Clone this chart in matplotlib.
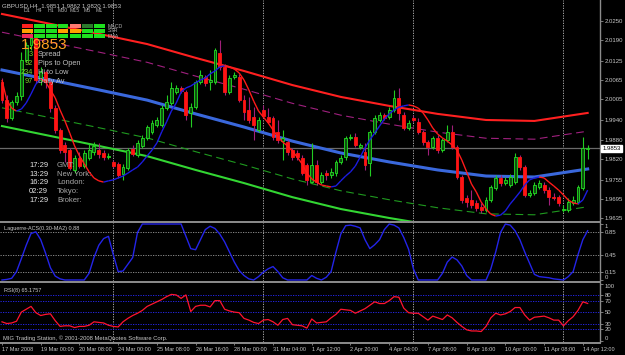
import matplotlib
matplotlib.use("Agg")
import matplotlib.pyplot as plt
from matplotlib.collections import LineCollection
from matplotlib.patches import Rectangle
import numpy as np

plt.rcParams['font.family'] = ['Liberation Sans', 'DejaVu Sans']

# ---- GBPUSD H4 candles (17 Mar - 14 Apr 2008) ----
opens = [2.0060, 2.0003, 1.9947, 1.9997, 2.0016, 2.0128, 2.0175, 2.0197, 2.0066, 2.0091,
         2.0060, 1.9978, 1.9910, 1.9863, 1.9847, 1.9785, 1.9822, 1.9797, 1.9822, 1.9841,
         1.9847, 1.9838, 1.9825, 1.9810, 1.9804, 1.9772, 1.9791, 1.9850, 1.9832, 1.9860,
         1.9885, 1.9904, 1.9925, 1.9925, 1.9978, 1.9994, 2.0028, 2.0041, 2.0028, 1.9963,
         1.9981, 2.0060, 2.0075, 2.0060, 2.0060, 2.0150, 2.0107, 2.0028, 2.0075, 2.0075,
         2.0003, 1.9972, 1.9950, 1.9910, 1.9972, 1.9950, 1.9947, 1.9904, 1.9875, 1.9872,
         1.9847, 1.9838, 1.9822, 1.9800, 1.9747, 1.9800, 1.9747, 1.9775, 1.9769, 1.9775,
         1.9810, 1.9825, 1.9885, 1.9888, 1.9857, 1.9841, 1.9807, 1.9904, 1.9941, 1.9957,
         1.9950, 1.9972, 2.0010, 1.9957, 1.9916, 1.9947, 1.9935, 1.9904, 1.9872, 1.9857,
         1.9885, 1.9847, 1.9879, 1.9904, 1.9857, 1.9763, 1.9697, 1.9691, 1.9682, 1.9669,
         1.9660, 1.9691, 1.9729, 1.9760, 1.9744, 1.9738, 1.9747, 1.9825, 1.9794, 1.9707,
         1.9713, 1.9732, 1.9738, 1.9722, 1.9700, 1.9700, 1.9660, 1.9660, 1.9682, 1.9685,
         1.9729, 1.9851]
highs = [2.0072, 2.0019, 2.0003, 2.0028, 2.0153, 2.0184, 2.0216, 2.0206, 2.0107, 2.0097,
         2.0066, 1.9988, 1.9916, 1.9872, 1.9854, 1.9832, 1.9841, 1.9847, 1.9866, 1.9872,
         1.9869, 1.9847, 1.9838, 1.9816, 1.9810, 1.9804, 1.9854, 1.9863, 1.9879, 1.9894,
         1.9925, 1.9941, 1.9950, 1.9988, 2.0019, 2.0060, 2.0050, 2.0047, 2.0035, 1.9994,
         2.0066, 2.0097, 2.0082, 2.0097, 2.0166, 2.0191, 2.0116, 2.0082, 2.0091, 2.0085,
         2.0019, 2.0013, 1.9981, 1.9950, 1.9988, 1.9978, 1.9953, 1.9941, 1.9910, 1.9879,
         1.9854, 1.9847, 1.9832, 1.9807, 1.9869, 1.9816, 1.9779, 1.9785, 1.9791, 1.9816,
         1.9832, 1.9891, 1.9897, 1.9900, 1.9869, 1.9869, 1.9910, 1.9957, 1.9966, 1.9963,
         1.9981, 2.0035, 2.0041, 1.9966, 1.9941, 1.9957, 1.9947, 1.9910, 1.9879, 1.9891,
         1.9894, 1.9885, 1.9925, 1.9925, 1.9863, 1.9769, 1.9707, 1.9722, 1.9691, 1.9682,
         1.9700, 1.9738, 1.9769, 1.9769, 1.9763, 1.9772, 1.9838, 1.9832, 1.9800, 1.9722,
         1.9747, 1.9754, 1.9747, 1.9732, 1.9713, 1.9707, 1.9676, 1.9697, 1.9704, 1.9738,
         1.9888, 1.9862]
lows = [1.9994, 1.9935, 1.9941, 1.9988, 2.0003, 2.0122, 2.0160, 2.0057, 2.0050, 2.0041,
        1.9966, 1.9900, 1.9838, 1.9810, 1.9785, 1.9775, 1.9791, 1.9791, 1.9816, 1.9832,
        1.9822, 1.9816, 1.9819, 1.9791, 1.9760, 1.9754, 1.9785, 1.9829, 1.9825, 1.9854,
        1.9879, 1.9897, 1.9919, 1.9919, 1.9972, 1.9988, 2.0022, 2.0025, 1.9941, 1.9919,
        1.9975, 2.0053, 2.0047, 2.0035, 2.0053, 2.0097, 2.0019, 2.0022, 2.0069, 1.9997,
        1.9941, 1.9932, 1.9879, 1.9904, 1.9947, 1.9932, 1.9879, 1.9869, 1.9816, 1.9832,
        1.9816, 1.9816, 1.9769, 1.9738, 1.9744, 1.9738, 1.9741, 1.9754, 1.9760, 1.9766,
        1.9804, 1.9816, 1.9879, 1.9857, 1.9850, 1.9785, 1.9766, 1.9897, 1.9935, 1.9941,
        1.9944, 1.9966, 1.9941, 1.9910, 1.9910, 1.9935, 1.9897, 1.9863, 1.9832, 1.9850,
        1.9838, 1.9841, 1.9872, 1.9850, 1.9757, 1.9682, 1.9669, 1.9666, 1.9657, 1.9651,
        1.9654, 1.9685, 1.9722, 1.9735, 1.9738, 1.9732, 1.9741, 1.9785, 1.9700, 1.9700,
        1.9707, 1.9725, 1.9713, 1.9676, 1.9691, 1.9672, 1.9654, 1.9654, 1.9676, 1.9679,
        1.9722, 1.9820]
closes = [2.0003, 1.9947, 1.9997, 2.0016, 2.0128, 2.0175, 2.0197, 2.0066, 2.0091, 2.0060,
          1.9978, 1.9910, 1.9847, 1.9841, 1.9791, 1.9822, 1.9797, 1.9838, 1.9847, 1.9860,
          1.9835, 1.9825, 1.9829, 1.9797, 1.9769, 1.9794, 1.9847, 1.9835, 1.9869, 1.9885,
          1.9919, 1.9932, 1.9941, 1.9978, 1.9997, 2.0041, 2.0041, 2.0032, 1.9957, 1.9981,
          2.0060, 2.0082, 2.0057, 2.0066, 2.0160, 2.0107, 2.0028, 2.0072, 2.0082, 2.0003,
          1.9966, 1.9941, 1.9925, 1.9941, 1.9953, 1.9935, 1.9888, 1.9879, 1.9885, 1.9841,
          1.9825, 1.9825, 1.9775, 1.9754, 1.9800, 1.9747, 1.9769, 1.9769, 1.9779, 1.9810,
          1.9822, 1.9885, 1.9888, 1.9863, 1.9863, 1.9800, 1.9904, 1.9947, 1.9957, 1.9947,
          1.9972, 2.0010, 1.9963, 1.9916, 1.9932, 1.9941, 1.9904, 1.9872, 1.9857, 1.9885,
          1.9847, 1.9879, 1.9904, 1.9857, 1.9763, 1.9691, 1.9685, 1.9676, 1.9666, 1.9660,
          1.9691, 1.9732, 1.9760, 1.9744, 1.9754, 1.9763, 1.9825, 1.9794, 1.9707, 1.9713,
          1.9738, 1.9744, 1.9722, 1.9700, 1.9697, 1.9682, 1.9663, 1.9685, 1.9691, 1.9732,
          1.9854, 1.9853]

# slope-coloured moving average
ma_vals = [2.0066, 2.0003, 1.9978, 1.9969, 1.9975, 1.9994, 2.0022, 2.0053, 2.0069, 2.0060,
           2.0035, 2.0010, 1.9972, 1.9938, 1.9900, 1.9860, 1.9829, 1.9804, 1.9779, 1.9760,
           1.9751, 1.9747, 1.9751, 1.9754, 1.9760, 1.9766, 1.9775, 1.9785, 1.9794, 1.9810,
           1.9829, 1.9847, 1.9869, 1.9904, 1.9935, 1.9969, 1.9994, 2.0028, 2.0041, 2.0047,
           2.0057, 2.0066, 2.0072, 2.0085, 2.0094, 2.0107, 2.0110, 2.0107, 2.0100, 2.0088,
           2.0066, 2.0035, 2.0000, 1.9969, 1.9950, 1.9932, 1.9910, 1.9888, 1.9872, 1.9860,
           1.9844, 1.9825, 1.9804, 1.9775, 1.9757, 1.9747, 1.9738, 1.9735, 1.9732, 1.9735,
           1.9751, 1.9766, 1.9779, 1.9797, 1.9825, 1.9854, 1.9879, 1.9900, 1.9922, 1.9944,
           1.9960, 1.9972, 1.9981, 1.9985, 1.9988, 1.9985, 1.9978, 1.9963, 1.9941, 1.9916,
           1.9897, 1.9885, 1.9875, 1.9863, 1.9847, 1.9816, 1.9779, 1.9741, 1.9716, 1.9685,
           1.9663, 1.9647, 1.9641, 1.9644, 1.9657, 1.9679, 1.9697, 1.9716, 1.9738, 1.9754,
           1.9760, 1.9763, 1.9760, 1.9747, 1.9735, 1.9722, 1.9707, 1.9691, 1.9682, 1.9679,
           1.9691, 1.9722]

# regression channel: centre line read at these bars, plus band widths
chan_bars = [0, 10, 20, 30, 40, 50, 60, 70, 80, 90, 100, 110, 121]
chan_mid = [2.0097, 2.0066, 2.0035, 2.0003, 1.9960, 1.9919, 1.9875, 1.9838, 1.9810,
            1.9785, 1.9766, 1.9763, 1.9788]
band_inner = 0.0118
band_outer = 0.0175

lag_vals = [0.00, 0.01, 0.03, 0.15, 0.38, 0.62, 0.83, 0.86, 0.72, 0.48,
            0.22, 0.07, 0.02, 0.00, 0.00, 0.00, 0.00, 0.00, 0.12, 0.40,
            0.62, 0.74, 0.78, 0.45, 0.15, 0.16, 0.28, 0.40, 0.85, 1.00,
            1.00, 1.00, 1.00, 1.00, 1.00, 1.00, 1.00, 1.00, 0.78, 0.56,
            0.54, 0.72, 0.90, 0.96, 0.92, 0.82, 0.68, 0.50, 0.32, 0.17,
            0.08, 0.02, 0.00, 0.06, 0.14, 0.20, 0.24, 0.15, 0.04, 0.00,
            0.00, 0.00, 0.00, 0.00, 0.08, 0.03, 0.00, 0.05, 0.15, 0.50,
            0.82, 0.97, 0.98, 0.96, 0.93, 0.72, 0.56, 0.63, 0.72, 0.90,
            1.00, 0.98, 0.93, 0.76, 0.55, 0.20, 0.00, 0.00, 0.00, 0.00,
            0.00, 0.12, 0.32, 0.41, 0.36, 0.25, 0.08, 0.00, 0.00, 0.00,
            0.00, 0.20, 0.50, 0.85, 1.00, 0.98, 0.88, 0.72, 0.50, 0.30,
            0.10, 0.06, 0.05, 0.04, 0.02, 0.01, 0.00, 0.06, 0.15, 0.45,
            0.72, 0.88]
lag_levels = [0.85, 0.45, 0.15]

rsi_vals = [33, 30, 31, 34, 50, 55, 60, 49, 44, 46,
            47, 35, 25, 26, 26, 23, 25, 25, 27, 33,
            32, 31, 27, 25, 24, 33, 39, 44, 48, 53,
            60, 64, 68, 72, 77, 81, 80, 74, 80, 51,
            60, 62, 62, 59, 70, 70, 55, 52, 50, 49,
            39, 36, 32, 30, 36, 37, 33, 27, 37, 39,
            28, 27, 26, 22, 38, 31, 32, 33, 40, 46,
            55, 54, 53, 48, 52, 56, 62, 68, 65, 65,
            70, 77, 76, 57, 49, 48, 48, 42, 36, 43,
            40, 37, 45, 40, 32, 25, 19, 17, 17, 16,
            25, 40, 48, 45, 47, 51, 58, 58, 45, 36,
            41, 42, 43, 40, 36, 36, 26, 35, 42, 53,
            68, 65.1757]
rsi_levels = [80, 70, 50, 30, 20]

price_ticks = [2.0250, 2.0190, 2.0125, 2.0065, 2.0005, 1.9940, 1.9880, 1.9820,
               1.9755, 1.9695, 1.9635]
bid = 1.9853
week_starts = [23, 54, 85, 116]
date_bars = [0, 8, 16, 24, 32, 40, 48, 56, 64, 72, 80, 88, 96, 104, 112, 120]
date_labels = ['17 Mar 2008', '19 Mar 00:00', '20 Mar 08:00', '24 Mar 00:00',
               '25 Mar 08:00', '26 Mar 16:00', '28 Mar 00:00', '31 Mar 04:00',
               '1 Apr 12:00', '2 Apr 20:00', '4 Apr 04:00', '7 Apr 08:00',
               '8 Apr 16:00', '10 Apr 00:00', '11 Apr 08:00', '14 Apr 12:00']

# signal table (MACD / STR / EMA per timeframe)
timeframes = ['D1', 'H4', 'H1', 'M30', 'M15', 'M5', 'M1']
signal_rows = ['MACD', 'STR', 'EMA']
signal_state = [['dn', 'up', 'up', 'up', 'wdn', 'wup', 'up'],
                ['fl', 'up', 'up', 'fl', 'fl', 'up', 'up'],
                ['dn2', 'up', 'up', 'up', 'up', 'up', 'up']]
state_color = {'up': '#1ee01e', 'dn': '#ff2020', 'wdn': '#ff7a70', 'wup': '#2c7a2c',
               'fl': '#ffa000', 'dn2': '#f02a5a'}
info_vals = ['3', '92', '234', '97']
info_names = ['Spread', 'Pips to Open', 'Hi to Low', 'Daily Av']
clock_times = ['17:29', '13:29', '16:29', '02:29', '17:29']
clock_names = ['GMT:', 'New York:', 'London:', 'Tokyo:', 'Broker:']

W, H = 625, 355
fig = plt.figure(figsize=(W / 100, H / 100), dpi=100, facecolor='black')
GRAY = '#8c8c8c'
TXT = '#c8c8c8'


def panel(top, bottom):
    ax = fig.add_axes([0, 1 - bottom / H, 600 / W, (bottom - top) / H])
    ax.set_facecolor('black')
    ax.set_xlim(-0.41, 123.55)
    for s in ['left', 'top', 'bottom']:
        ax.spines[s].set_visible(False)
    ax.spines['right'].set_color(GRAY)
    ax.spines['right'].set_linewidth(1.0)
    ax.yaxis.tick_right()
    ax.tick_params(axis='y', colors=GRAY, labelcolor=TXT, labelsize=4.3, length=2,
                   width=0.6, pad=1.2)
    ax.set_xticks([])
    for b in week_starts:
        ax.axvline(b, color='#bdbdbd', lw=0.6, ls=(0, (1.5, 1.5)), zorder=1)
    return ax


def ftext(x, y, s, **kw):
    fig.text(x / W, 1 - y / H, s, va='center', **kw)


main = panel(0, 221)
lag = panel(223, 281)
rsi = panel(283, 342)

for y in [222, 282, 342.5]:
    fig.add_artist(plt.Line2D([0, 600 / W], [1 - y / H] * 2, transform=fig.transFigure,
                              color=GRAY, lw=1.4))

# ---- main chart ----
main.set_ylim(1.96256, 2.03156)
n = len(closes)
x = np.arange(n)
o = np.array(opens); c = np.array(closes)
hi = np.array(highs); lo = np.array(lows)

cb = np.array(chan_bars); cm = np.array(chan_mid)
main.plot(cb, cm + band_outer, color='#ff2020', lw=1.5, zorder=2)
main.plot(cb, cm + band_inner, color='#a0207f', lw=0.8, ls=(0, (7, 4)), zorder=2)
main.plot(cb, cm, color='#3a68dc', lw=2.2, zorder=2)
main.plot(cb, cm - band_inner, color='#1f9a1f', lw=0.8, ls=(0, (7, 4)), zorder=2)
main.plot(cb, cm - band_outer, color='#33d633', lw=1.5, zorder=2)

main.axhline(bid, color='#6a6a6a', lw=0.9, zorder=1.5)

up = c >= o
main.vlines(x, lo, hi, colors=np.where(up, '#22cc22', '#a01f7a'), lw=0.8, zorder=3)
main.bar(x, np.maximum(np.abs(c - o), 0.00025), bottom=np.minimum(o, c), width=0.6,
         color=np.where(up, '#0f500f', '#ff1414'),
         edgecolor=np.where(up, '#22e022', '#ff1414'), linewidth=0.6, zorder=4)

ma = np.array(ma_vals)
pts = np.column_stack([x, ma])
segs = np.stack([pts[:-1], pts[1:]], axis=1)
seg_cols = ['#ff1a1a' if ma[i + 1] < ma[i] else '#1c1ce0' for i in range(n - 1)]
main.add_collection(LineCollection(segs, colors=seg_cols, linewidths=1.0, zorder=5))

main.set_yticks(price_ticks)
main.set_yticklabels(['%.4f' % p for p in price_ticks])
main.text(1.004, bid, '%.4f' % bid, transform=main.get_yaxis_transform(), fontsize=4.3,
          color='black', va='center', ha='left', zorder=10, clip_on=False,
          bbox=dict(boxstyle='square,pad=0.18', fc='white', ec='white'))

main.text(0.004, 0.972, 'GBPUSD,H4  1.9851 1.9862 1.9820 1.9853', transform=main.transAxes,
          fontsize=4.4, color=TXT, va='center', ha='left')

# signal table overlay
for k, tf in enumerate(timeframes):
    ftext(27 + 12 * k, 10, tf, fontsize=3.8, color='#b0b0b0', ha='center')
    for r in range(3):
        fig.patches.append(Rectangle(((22 + 12 * k) / W, 1 - (27.6 + 5 * r) / H), 10.5 / W,
                                     3.4 / H, transform=fig.transFigure,
                                     fc=state_color[signal_state[r][k]], ec='none'))
for r, name in enumerate(signal_rows):
    ftext(108, 26 + 5 * r, name, fontsize=3.8, color='#b0b0b0', ha='left')

ftext(21, 45, '1.9853', fontsize=11, color='#ffa020', ha='left')
for r, (v, nm) in enumerate(zip(info_vals, info_names)):
    ftext(33, 54 + 9.3 * r, v, fontsize=5.3, color='#7cd42a', ha='right')
    ftext(38, 54 + 9.3 * r, nm, fontsize=5.3, color='#bdbdbd', ha='left')
for r, (t, nm) in enumerate(zip(clock_times, clock_names)):
    ftext(29, 165 + 9 * r, t, fontsize=5.5, color='#e6e6e6', ha='left')
    ftext(57, 165 + 9 * r, nm, fontsize=5.5, color='#a8a8a8', ha='left')

# ---- Laguerre panel ----
lag.set_ylim(-0.018, 1.018)
for lv in lag_levels:
    lag.axhline(lv, color='#9a9a9a', lw=0.6, ls=(0, (1.5, 1.5)))
lag.plot(x, lag_vals, color='#2424e8', lw=1.0, zorder=3)
lag.set_yticks([1, 0.85, 0.45, 0.15, 0])
lag.set_yticklabels(['1', '0.85', '0.45', '0.15', '0'])
tl = lag.get_yticklabels()
tl[0].set_va('top'); tl[-1].set_va('bottom')
lag.text(0.006, 0.9, 'Laguerre-ACS(0.30-MA2) 0.88', transform=lag.transAxes, fontsize=4,
         color=TXT, va='center', ha='left')

# ---- RSI panel ----
rsi.set_ylim(-2.3, 100.9)
for lv in rsi_levels:
    rsi.axhline(lv, color='#2a2aff', lw=0.6, ls=(0, (1.5, 1.5)))
rsi.plot(x, rsi_vals, color='#ff1430', lw=0.9, zorder=3)
rsi.set_yticks([100, 80, 70, 50, 30, 20, 0])
rsi.set_yticklabels(['100', '80', '70', '50', '30', '20', '0'])
tl = rsi.get_yticklabels()
tl[0].set_va('top'); tl[-1].set_va('bottom')
rsi.text(0.006, 0.88, 'RSI(8) 65.1757', transform=rsi.transAxes, fontsize=4,
         color=TXT, va='center', ha='left')
rsi.text(0.005, 0.07, 'MIG Trading Station, \u00a9 2001-2008 MetaQuotes Software Corp.',
         transform=rsi.transAxes, fontsize=4.2, color=TXT, va='center', ha='left')

rsi.set_xticks(date_bars)
rsi.set_xticklabels(date_labels)
rsi.tick_params(axis='x', colors=GRAY, labelcolor=TXT, labelsize=4, length=2, width=0.6,
                pad=1.5, bottom=True)
for lbl in rsi.get_xticklabels():
    lbl.set_ha('left')

fig.savefig('out.png', dpi=100, facecolor='black')
